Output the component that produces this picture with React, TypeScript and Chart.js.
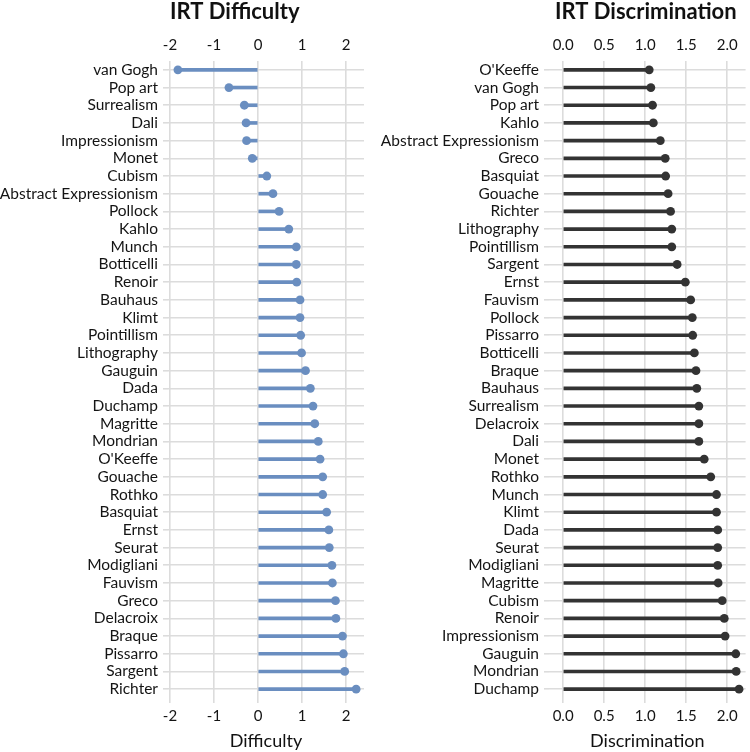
import React, { useEffect, useRef } from "react";
import { Chart, registerables } from "chart.js";
Chart.register(...registerables);

const difficultyLabels = [
  "van Gogh", "Pop art", "Surrealism", "Dali", "Impressionism", "Monet", "Cubism",
  "Abstract Expressionism", "Pollock", "Kahlo", "Munch", "Botticelli", "Renoir", "Bauhaus",
  "Klimt", "Pointillism", "Lithography", "Gauguin", "Dada", "Duchamp", "Magritte", "Mondrian",
  "O'Keeffe", "Gouache", "Rothko", "Basquiat", "Ernst", "Seurat", "Modigliani", "Fauvism",
  "Greco", "Delacroix", "Braque", "Pissarro", "Sargent", "Richter",
];
const difficultyValues = [
  -1.82, -0.66, -0.31, -0.27, -0.26, -0.13, 0.2, 0.34, 0.48, 0.7, 0.87, 0.87, 0.88, 0.955,
  0.955, 0.97, 0.99, 1.08, 1.19, 1.25, 1.29, 1.37, 1.41, 1.47, 1.47, 1.56, 1.61, 1.62, 1.68,
  1.69, 1.76, 1.77, 1.92, 1.94, 1.97, 2.23,
];
const discriminationLabels = [
  "O'Keeffe", "van Gogh", "Pop art", "Kahlo", "Abstract Expressionism", "Greco", "Basquiat",
  "Gouache", "Richter", "Lithography", "Pointillism", "Sargent", "Ernst", "Fauvism", "Pollock",
  "Pissarro", "Botticelli", "Braque", "Bauhaus", "Surrealism", "Delacroix", "Dali", "Monet",
  "Rothko", "Munch", "Klimt", "Dada", "Seurat", "Modigliani", "Magritte", "Cubism", "Renoir",
  "Impressionism", "Gauguin", "Mondrian", "Duchamp",
];
const discriminationValues = [
  1.05, 1.07, 1.09, 1.1, 1.185, 1.245, 1.25, 1.28, 1.31, 1.325, 1.325, 1.39, 1.49, 1.555,
  1.575, 1.58, 1.6, 1.62, 1.63, 1.655, 1.655, 1.655, 1.72, 1.8, 1.87, 1.87, 1.885, 1.885,
  1.885, 1.89, 1.94, 1.965, 1.975, 2.105, 2.11, 2.145,
];
const difficultyTicks = [-2, -1, 0, 1, 2];
const discriminationTicks = [0, 0.5, 1, 1.5, 2];

const FONT = "Lato, 'Liberation Sans', sans-serif";
const GRID = "#dcdcdc";
const TEXT = "#141414";

type PanelProps = {
  labels: string[];
  values: number[];
  ticks: number[];
  color: string;
  title: string;
  axisTitle: string;
  xMin: number;
  xMax: number;
  areaLeft: number;
  padRight: number;
  titleX: number;
  decimals: number;
  left: number;
};

function Panel(p: PanelProps) {
  const ref = useRef<HTMLCanvasElement | null>(null);
  useEffect(() => {
    if (!ref.current) return;
    const setTicks = (scale: any) => {
      scale.ticks = p.ticks.map((v) => ({ value: v }));
    };
    const fmt = (v: any) => Number(v).toFixed(p.decimals);
    const titlePlugin = {
      id: "panelTitle",
      afterDraw(chart: any) {
        const ctx = chart.ctx;
        ctx.save();
        ctx.font = `bold 22px ${FONT}`;
        ctx.fillStyle = "#111111";
        ctx.textAlign = "left";
        ctx.textBaseline = "alphabetic";
        ctx.fillText(p.title, p.titleX, 19);
        ctx.restore();
      },
    };
    const chart = new Chart(ref.current, {
      type: "bar",
      data: {
        labels: p.labels,
        datasets: [
          {
            type: "bar",
            data: p.values,
            backgroundColor: p.color,
            barThickness: 3,
            indexAxis: "y",
            xAxisID: "x",
            yAxisID: "y",
          } as any,
          {
            type: "line",
            data: p.values,
            indexAxis: "y",
            showLine: false,
            pointRadius: 4.4,
            pointBorderWidth: 0,
            pointBackgroundColor: p.color,
            backgroundColor: p.color,
            borderColor: p.color,
            xAxisID: "x",
            yAxisID: "y",
          } as any,
        ],
      },
      options: {
        indexAxis: "y",
        animation: false,
        responsive: false,
        maintainAspectRatio: false,
        layout: { padding: { left: 0, right: p.padRight, top: 0, bottom: 0 } },
        plugins: { legend: { display: false }, tooltip: { enabled: false }, title: { display: false } },
        scales: {
          x: {
            type: "linear",
            position: "bottom",
            min: p.xMin,
            max: p.xMax,
            afterBuildTicks: setTicks,
            grid: { color: GRID, lineWidth: 1.6, tickLength: 5 },
            border: { display: false },
            ticks: { font: { family: FONT, size: 15 }, color: TEXT, padding: 4, callback: fmt },
            title: {
              display: true,
              text: p.axisTitle,
              font: { family: FONT, size: 18 },
              color: "#111111",
              padding: 0,
            },
            afterFit: (s: any) => {
              s.height = 54;
            },
          },
          x2: {
            type: "linear",
            position: "top",
            min: p.xMin,
            max: p.xMax,
            afterBuildTicks: setTicks,
            grid: { drawOnChartArea: false, drawTicks: false, color: GRID },
            border: { display: false },
            ticks: { font: { family: FONT, size: 15 }, color: TEXT, padding: 7, callback: fmt },
            afterFit: (s: any) => {
              s.height = 61;
            },
          },
          y: {
            type: "category",
            offset: true,
            grid: { color: GRID, lineWidth: 1.6, tickLength: 5, offset: false },
            border: { display: false },
            ticks: { font: { family: FONT, size: 15.5 }, color: TEXT, padding: 5, autoSkip: false },
            afterFit: (s: any) => {
              s.width = p.areaLeft;
            },
          },
        },
      } as any,
      plugins: [titlePlugin],
    });
    return () => chart.destroy();
  }, []);
  return (
    <div style={{ position: "absolute", left: p.left, top: 0, width: 375, height: 752 }}>
      <canvas ref={ref} width={375} height={752} style={{ display: "block" }} />
    </div>
  );
}

export default function App() {
  return (
    <div style={{ position: "absolute", left: 0, top: 0, width: 750, height: 752, background: "#ffffff" }}>
      <Panel
        labels={difficultyLabels}
        values={difficultyValues}
        ticks={difficultyTicks}
        color="#6a8ec0"
        title="IRT Difficulty"
        axisTitle="Difficulty"
        xMin={-2.045}
        xMax={2.409}
        areaLeft={168}
        padRight={11}
        titleX={170}
        decimals={0}
        left={0}
      />
      <Panel
        labels={discriminationLabels}
        values={discriminationValues}
        ticks={discriminationTicks}
        color="#333333"
        title="IRT Discrimination"
        axisTitle="Discrimination"
        xMin={-0.172}
        xMax={2.225}
        areaLeft={174}
        padRight={2}
        titleX={180}
        decimals={1}
        left={375}
      />
    </div>
  );
}
